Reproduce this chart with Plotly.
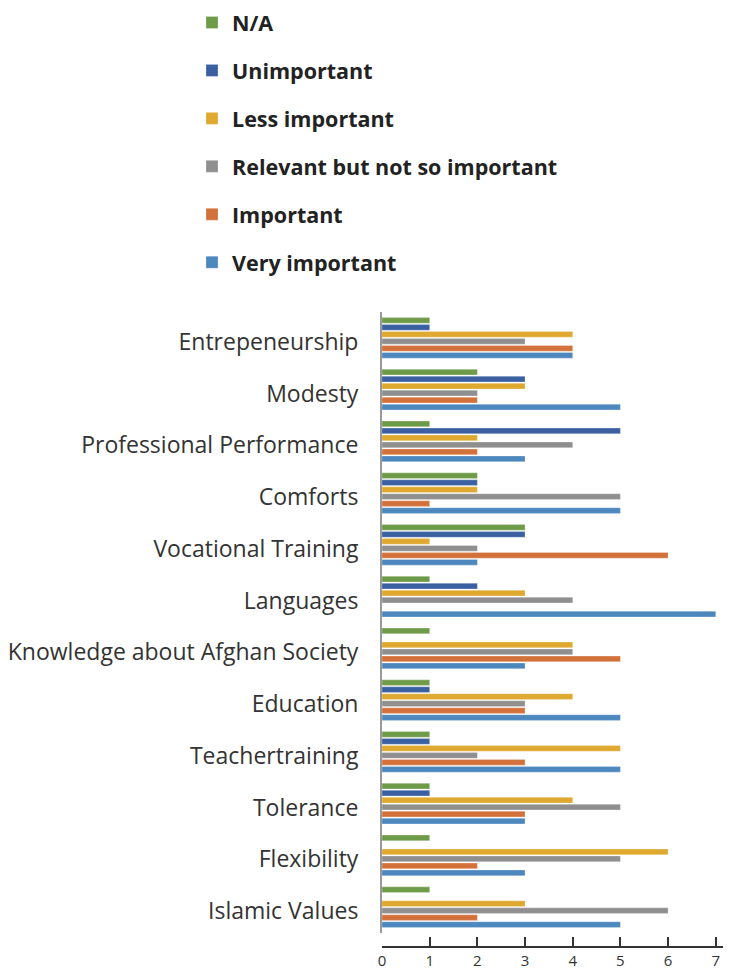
import plotly.graph_objects as go

categories = [
    "Entrepeneurship", "Modesty", "Professional Performance", "Comforts",
    "Vocational Training", "Languages", "Knowledge about Afghan Society",
    "Education", "Teachertraining", "Tolerance", "Flexibility", "Islamic Values",
]

series_names = ["N/A", "Unimportant", "Less important",
                "Relevant but not so important", "Important", "Very important"]

na_vals          = [1, 2, 1, 2, 3, 1, 1, 1, 1, 1, 1, 1]
unimportant_vals = [1, 3, 5, 2, 3, 2, 0, 1, 1, 1, 0, 0]
less_vals        = [4, 3, 2, 2, 1, 3, 4, 4, 5, 4, 6, 3]
relevant_vals    = [3, 2, 4, 5, 2, 4, 4, 3, 2, 5, 5, 6]
important_vals   = [4, 2, 2, 1, 6, 0, 5, 3, 3, 3, 2, 2]
very_vals        = [4, 5, 3, 5, 2, 7, 3, 5, 5, 3, 3, 5]

series_values = [na_vals, unimportant_vals, less_vals,
                 relevant_vals, important_vals, very_vals]
colors = ["#6E9B48", "#3A60A2", "#DFA82F", "#8F8F8F", "#D3713B", "#4C87BE"]

x_ticks = [0, 1, 2, 3, 4, 5, 6, 7]

fig = go.Figure()
for name, vals, col in zip(series_names, series_values, colors):
    fig.add_trace(go.Bar(
        y=categories, x=vals, name=name, orientation="h",
        marker=dict(color=col, line=dict(color="rgba(255,255,255,0.5)", width=0.5)),
        legendgroup=name,
    ))

# page has an 8px body margin, so the figure is 8px smaller on each axis
OFF = 8
W, H = 731 - OFF, 972 - OFF
plot_top, plot_bottom, axis_y = 312 - OFF, 933 - OFF, 947 - OFF
paper_h = axis_y - plot_top
legend_top_px = -6
fig.update_layout(
    width=W, height=H,
    margin=dict(l=382 - OFF, r=0, t=plot_top, b=H - axis_y, autoexpand=False),
    paper_bgcolor="white", plot_bgcolor="white",
    barmode="group", bargap=0.19, bargroupgap=0.2,
    showlegend=True,
    legend=dict(
        xref="container", yref="paper",
        x=184 / W, y=(axis_y - legend_top_px) / paper_h,
        xanchor="left", yanchor="top",
        traceorder="grouped", tracegroupgap=17,
        font=dict(family="Open Sans", size=21.5, color="#222222", weight="bold"),
        bgcolor="rgba(0,0,0,0)",
    ),
    xaxis=dict(
        range=[0, 7.32], tickvals=x_ticks, ticktext=[str(v) for v in x_ticks],
        showgrid=False, zeroline=False, automargin=False,
        showline=True, linecolor="#333333", linewidth=1.5,
        ticks="inside", ticklen=9, tickwidth=1.5, tickcolor="#333333",
        tickfont=dict(family="Open Sans", size=15, color="#333333"),
        anchor="free", position=0,
    ),
    yaxis=dict(
        categoryorder="array", categoryarray=categories,
        autorange="reversed", automargin=False,
        domain=[(axis_y - plot_bottom) / paper_h, 1],
        showgrid=False, zeroline=False,
        showline=True, linecolor="#999999", linewidth=2,
        ticks="", ticklabelstandoff=17, ticklabelshift=-4,
        tickfont=dict(family="Open Sans", size=23, color="#333333"),
    ),
)

fig.write_html("out.html")
